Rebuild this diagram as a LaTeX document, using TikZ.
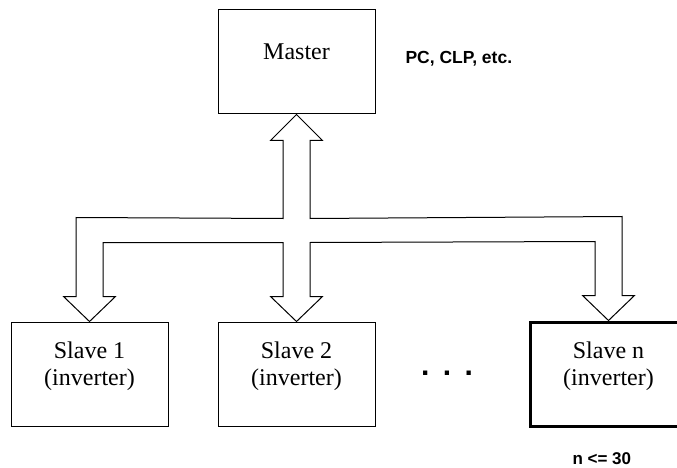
\documentclass[tikz,border=0pt]{standalone}
\usepackage{fontspec}
\setmainfont{Liberation Serif}
\newfontfamily\arialfont{Liberation Sans}
\usetikzlibrary{calc}
\begin{document}
\begin{tikzpicture}[x=1pt,y=-1pt,line width=1pt,line join=miter,
  box/.style={draw,minimum width=157pt,minimum height=104pt,inner sep=0pt,
    font=\fontsize{24}{27}\selectfont},
  masterbox/.style={box,text height=16pt,text depth=20pt},
  slavebox/.style={box,text height=16pt,text depth=48pt},
  note/.style={font=\arialfont\bfseries\fontsize{17.5}{20}\selectfont,inner sep=0pt},
  bus/.style={draw,line width=1pt,fill=white}]
\useasboundingbox (0,0) rectangle (677,468);

\node[masterbox] (m) at (296.5,62) {Master};
\node[slavebox] (a) at (89.5,374) {\setlength{\tabcolsep}{0pt}\begin{tabular}[t]{c}Slave 1\\(inverter)\end{tabular}};
\node[slavebox] (b) at (296.5,374) {\setlength{\tabcolsep}{0pt}\begin{tabular}[t]{c}Slave 2\\(inverter)\end{tabular}};
\node[slavebox,line width=3pt] (c) at (608.5,374) {\setlength{\tabcolsep}{0pt}\begin{tabular}[t]{c}Slave n\\(inverter)\end{tabular}};

\node[note,anchor=base west] (pc) at (405,64) {PC, CLP, etc.};
\node[note,anchor=base west,font=\arialfont\bfseries\fontsize{17}{20}\selectfont] (lim) at (572,464) {n <= 30};
\node[inner sep=0pt,anchor=base,font=\arialfont\bfseries\fontsize{30}{32}\selectfont] (dots) at (447,375) {.\hspace{13.5pt}.\hspace{13.5pt}.};

\draw[bus] (m.south) -- ($(m.south)+(26,26)$) -- ($(m.south)+(13.5,26)$)
  -- ($(m.south)+(13.5,104)$) -- ($(c.north)+(13.5,-104)$)
  -- ($(c.north)+(13.5,-25)$) -- ($(c.north)+(26,-25)$) -- (c.north)
  -- ($(c.north)+(-26,-25)$) -- ($(c.north)+(-13.5,-25)$)
  -- ($(c.north)+(-13.5,-79)$) -- ($(b.north)+(13.5,-79)$)
  -- ($(b.north)+(13.5,-25)$) -- ($(b.north)+(26,-25)$) -- (b.north)
  -- ($(b.north)+(-26,-25)$) -- ($(b.north)+(-13.5,-25)$)
  -- ($(b.north)+(-13.5,-79)$) -- ($(a.north)+(13.5,-79)$)
  -- ($(a.north)+(13.5,-25)$) -- ($(a.north)+(26,-25)$) -- (a.north)
  -- ($(a.north)+(-26,-25)$) -- ($(a.north)+(-13.5,-25)$)
  -- ($(a.north)+(-13.5,-104)$) -- ($(m.south)+(-13.5,104)$)
  -- ($(m.south)+(-13.5,26)$) -- ($(m.south)+(-26,26)$) -- cycle;
\end{tikzpicture}
\end{document}
